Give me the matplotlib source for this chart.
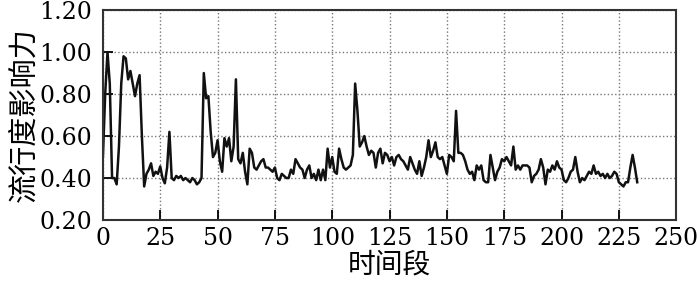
import matplotlib
matplotlib.use('Agg')
import matplotlib.pyplot as plt
import numpy as np

plt.rcParams['font.family'] = ['DejaVu Serif', 'Noto Sans CJK SC']
plt.rcParams['axes.unicode_minus'] = False

# --- data ---
values = [
    0.50, 0.80, 1.00, 0.85, 0.40, 0.40, 0.37, 0.55, 0.85, 0.98,
    0.97, 0.87, 0.91, 0.85, 0.79, 0.85, 0.89, 0.60, 0.36, 0.42,
    0.44, 0.47, 0.41, 0.43, 0.42, 0.455, 0.40, 0.375, 0.45, 0.62,
    0.40, 0.39, 0.41, 0.40, 0.41, 0.39, 0.40, 0.39, 0.38, 0.40,
    0.39, 0.37, 0.38, 0.40, 0.90, 0.78, 0.79, 0.62, 0.50, 0.52,
    0.58, 0.48, 0.43, 0.59, 0.55, 0.59, 0.48, 0.55, 0.87, 0.49,
    0.47, 0.52, 0.43, 0.37, 0.54, 0.52, 0.45, 0.44, 0.46, 0.48,
    0.49, 0.45, 0.45, 0.44, 0.43, 0.45, 0.40, 0.39, 0.42, 0.41,
    0.40, 0.40, 0.44, 0.42, 0.49, 0.47, 0.45, 0.44, 0.40, 0.44,
    0.46, 0.40, 0.42, 0.39, 0.44, 0.39, 0.44, 0.39, 0.54, 0.45,
    0.50, 0.43, 0.42, 0.54, 0.49, 0.45, 0.44, 0.45, 0.46, 0.51,
    0.85, 0.72, 0.55, 0.57, 0.60, 0.55, 0.51, 0.53, 0.52, 0.45,
    0.52, 0.54, 0.47, 0.52, 0.51, 0.48, 0.50, 0.46, 0.50, 0.51,
    0.49, 0.48, 0.46, 0.44, 0.50, 0.47, 0.44, 0.42, 0.48, 0.41,
    0.45, 0.50, 0.58, 0.50, 0.53, 0.57, 0.50, 0.49, 0.50, 0.46,
    0.42, 0.51, 0.50, 0.48, 0.72, 0.52, 0.52, 0.51, 0.48, 0.44,
    0.42, 0.43, 0.39, 0.46, 0.44, 0.46, 0.39, 0.38, 0.38, 0.51,
    0.45, 0.39, 0.43, 0.45, 0.49, 0.48, 0.50, 0.48, 0.46, 0.55,
    0.44, 0.46, 0.44, 0.46, 0.46, 0.46, 0.45, 0.38, 0.41, 0.42,
    0.44, 0.49, 0.45, 0.37, 0.44, 0.43, 0.46, 0.44, 0.48, 0.45,
    0.44, 0.39, 0.38, 0.40, 0.43, 0.44, 0.50, 0.43, 0.38, 0.40,
    0.39, 0.41, 0.43, 0.42, 0.46, 0.42, 0.43, 0.41, 0.42, 0.40,
    0.42, 0.40, 0.41, 0.43, 0.42, 0.38, 0.37, 0.36, 0.38, 0.38,
    0.45, 0.51, 0.45, 0.38,
]
periods = np.arange(len(values))

x_ticks = [0, 25, 50, 75, 100, 125, 150, 175, 200, 225, 250]
y_ticks = [0.20, 0.40, 0.60, 0.80, 1.00, 1.20]

# --- plotting ---
fig = plt.figure(figsize=(7, 2.88), dpi=100)
ax = fig.add_axes([0.147, 0.236, 0.819, 0.729])

ax.plot(periods, values, color='#111111', linewidth=1.8)

ax.set_xlim(0, 250)
ax.set_ylim(0.2, 1.2)
ax.set_xticks(x_ticks)
ax.set_yticks(y_ticks)
ax.set_yticklabels([f'{v:.2f}' for v in y_ticks])

ax.grid(True, linestyle=':', linewidth=1.0, color='#777777')
ax.tick_params(direction='in', length=7, width=1.3, labelsize=17,
               top=False, right=False)
ax.tick_params(axis='x', pad=5)
ax.tick_params(axis='y', pad=8)
for s in ax.spines.values():
    s.set_linewidth(1.5)
    s.set_color('#333333')

ax.set_xlabel('时间段', fontsize=20, labelpad=1)
ax.set_ylabel('流行度影响力', fontsize=21, labelpad=0)

fig.savefig('out.png', dpi=100)
